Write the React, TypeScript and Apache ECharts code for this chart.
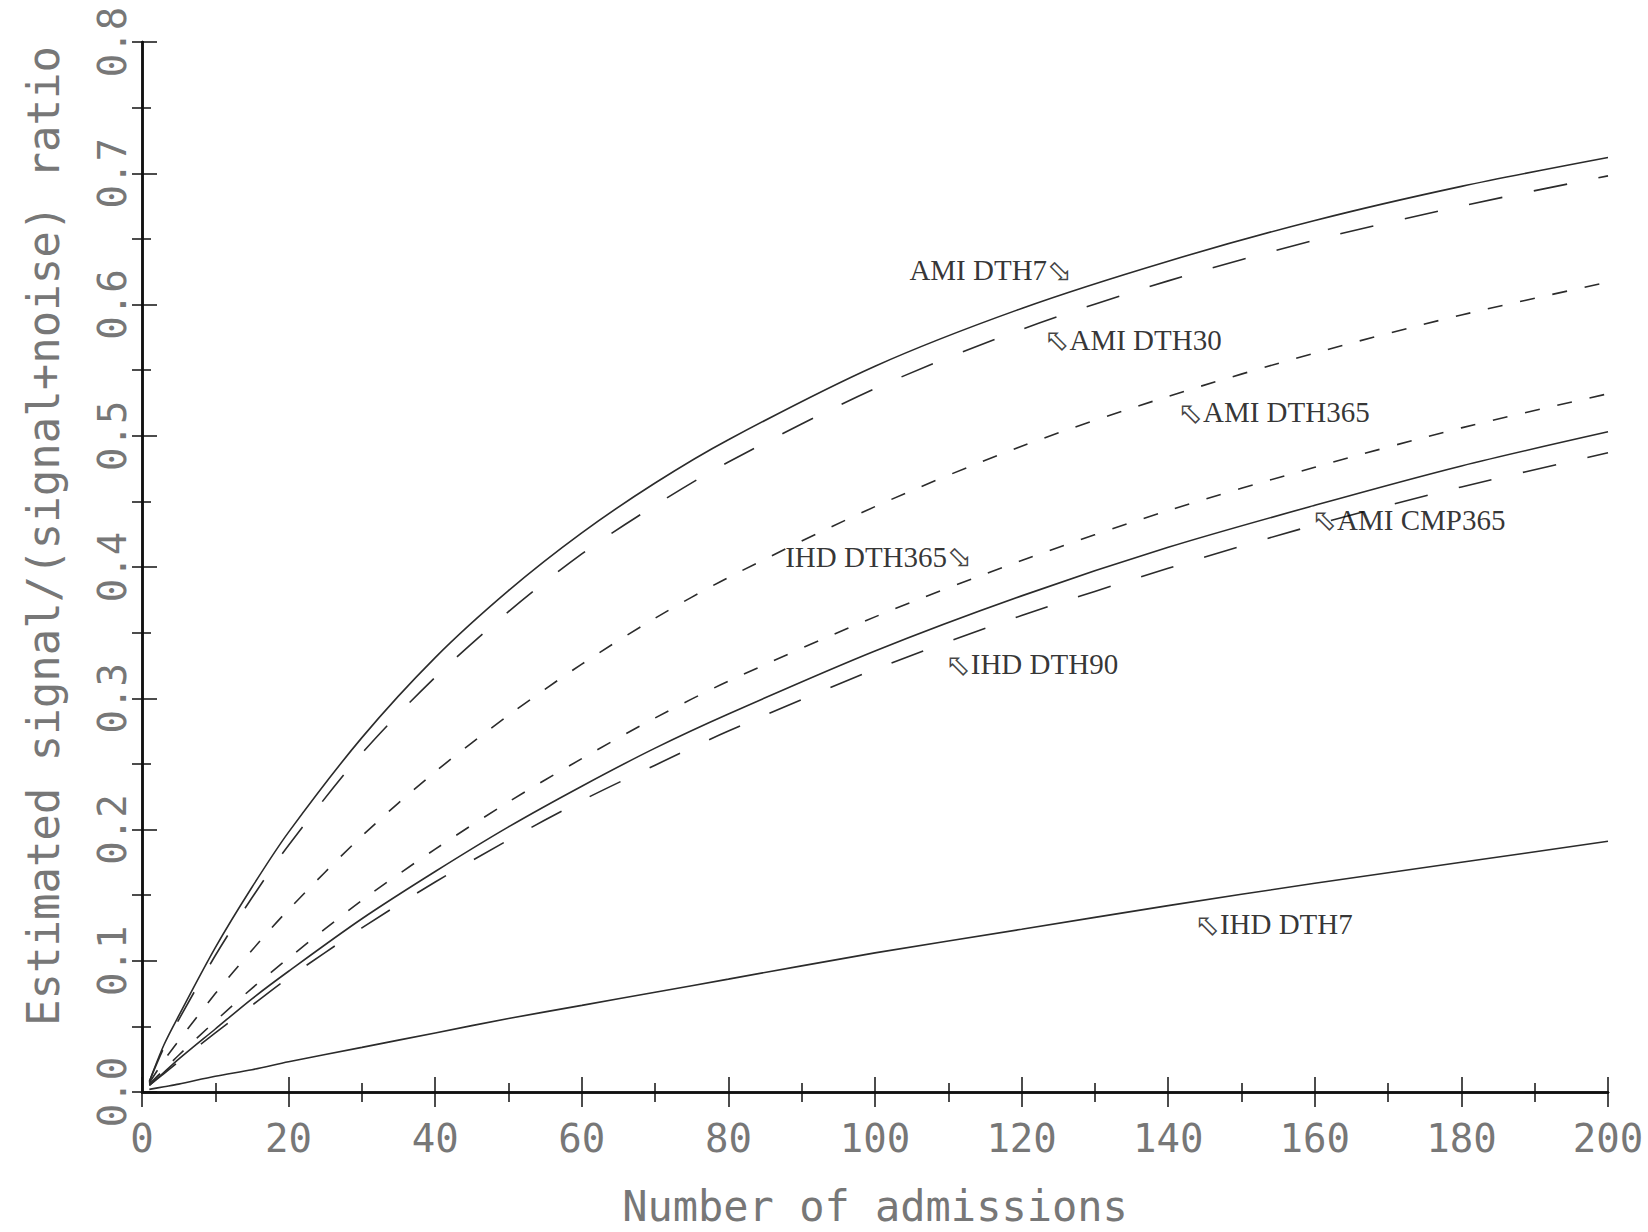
import React, { useEffect, useRef } from "react";
import * as echarts from "echarts";

// Number of admissions (x) at which the curves were read
const admissions = [1, 3, 5, 10, 15, 20, 30, 40, 50, 60, 70, 80, 100, 120, 140, 160, 180, 200];

// Estimated signal/(signal+noise) ratio
const amiDth7 = [0.008, 0.036, 0.058, 0.110, 0.156, 0.198, 0.270, 0.331, 0.382, 0.426, 0.464, 0.497, 0.553, 0.597, 0.633, 0.664, 0.690, 0.712];
const amiDth30 = [0.008, 0.034, 0.055, 0.104, 0.148, 0.188, 0.258, 0.316, 0.366, 0.410, 0.447, 0.480, 0.536, 0.581, 0.618, 0.649, 0.675, 0.698];
const amiDth365 = [0.007, 0.024, 0.039, 0.075, 0.108, 0.139, 0.195, 0.244, 0.287, 0.326, 0.361, 0.392, 0.446, 0.492, 0.530, 0.563, 0.592, 0.617];
const ihdDth365 = [0.006, 0.017, 0.028, 0.054, 0.079, 0.102, 0.146, 0.185, 0.221, 0.254, 0.285, 0.313, 0.362, 0.405, 0.443, 0.476, 0.506, 0.532];
const amiCmp365 = [0.005, 0.015, 0.025, 0.048, 0.071, 0.092, 0.132, 0.168, 0.202, 0.233, 0.262, 0.288, 0.336, 0.378, 0.415, 0.447, 0.477, 0.503];
const ihdDth90 = [0.005, 0.014, 0.023, 0.045, 0.066, 0.087, 0.125, 0.160, 0.192, 0.222, 0.249, 0.275, 0.322, 0.363, 0.399, 0.432, 0.461, 0.487];
const ihdDth7 = [0.002, 0.004, 0.006, 0.012, 0.017, 0.023, 0.034, 0.045, 0.056, 0.066, 0.076, 0.086, 0.106, 0.124, 0.142, 0.159, 0.175, 0.191];

const seriesNames = ["AMI DTH7", "AMI DTH30", "AMI DTH365", "IHD DTH365", "AMI CMP365", "IHD DTH90", "IHD DTH7"];
const seriesValues = [amiDth7, amiDth30, amiDth365, ihdDth365, amiCmp365, ihdDth90, ihdDth7];
const seriesDash = ["solid", "long", "short", "short", "solid", "long", "solid"];

// Curve annotations (data coordinates), arrow side
const noteText = ["AMI DTH7", "AMI DTH30", "AMI DTH365", "IHD DTH365", "AMI CMP365", "IHD DTH90", "IHD DTH7"];
const noteX = [115.8, 135.2, 154.4, 100.5, 172.8, 121.4, 154.4];
const noteY = [0.626, 0.573, 0.518, 0.408, 0.436, 0.326, 0.128];
const noteArrow = ["after", "before", "before", "after", "before", "before", "before"];

const xTitle = "Number of admissions";
const yTitle = "Estimated signal/(signal+noise) ratio";

const AXIS_FONT = "'DejaVu Sans Mono', 'Liberation Mono', monospace";
const LABEL_FONT = "'Liberation Serif', 'Times New Roman', serif";
const AXIS_TEXT = "#777";

export default function App() {
  const ref = useRef<HTMLDivElement>(null);

  useEffect(() => {
    if (!ref.current) return;
    const chart = echarts.init(ref.current, undefined, { renderer: "svg" });

    const dashFor = (d: string): any =>
      d === "long" ? [34, 32] : d === "short" ? [15, 18] : "solid";

    const lineSeries = seriesNames.map((name, i) => ({
      name,
      type: "line",
      xAxisIndex: 0,
      yAxisIndex: 0,
      data: admissions.map((x, j) => [x, seriesValues[i][j]]),
      showSymbol: false,
      symbol: "none",
      smooth: 0.3,
      silent: true,
      lineStyle: { color: "#2b2b2b", width: 1.6, type: dashFor(seriesDash[i]) },
    }));

    const noteSeries = {
      name: "notes",
      type: "scatter",
      xAxisIndex: 0,
      yAxisIndex: 0,
      symbolSize: 0,
      silent: true,
      z: 10,
      data: noteText.map((t, i) => ({ value: [noteX[i], noteY[i]], name: t, arrow: noteArrow[i] })),
      label: {
        show: true,
        position: "inside",
        fontFamily: LABEL_FONT,
        fontSize: 29,
        color: "#000",
        formatter: (p: any) =>
          p.data.arrow === "after" ? `${p.name}{a|\u2B02}` : `{a|\u2B01}${p.name}`,
        rich: {
          a: { fontFamily: "'DejaVu Sans', sans-serif", fontSize: 30, color: "#111" },
        },
      },
    };

    const axisLine = { show: true, lineStyle: { color: "#111", width: 2.5 } };

    chart.setOption({
      animation: false,
      backgroundColor: "#fff",
      grid: { left: 142, right: 40, top: 42, bottom: 134, containLabel: false },
      xAxis: [
        {
          type: "value",
          position: "bottom",
          min: 0,
          max: 200,
          interval: 20,
          axisLine,
          axisTick: { show: true, inside: true, length: 15, lineStyle: { color: "#111", width: 1.5 } },
          minorTick: { show: true, splitNumber: 2, length: 9, lineStyle: { color: "#111", width: 1.5 } },
          splitLine: { show: false },
          axisLabel: { margin: 27, fontFamily: AXIS_FONT, fontSize: 39, color: AXIS_TEXT },
          name: xTitle,
          nameLocation: "middle",
          nameGap: 93,
          nameTextStyle: { fontFamily: AXIS_FONT, fontSize: 42, color: AXIS_TEXT },
        },
        {
          type: "value",
          position: "top",
          min: 0,
          max: 200,
          interval: 20,
          axisLine,
          axisTick: { show: true, inside: true, length: 15, lineStyle: { color: "#111", width: 1.5 } },
          minorTick: { show: true, splitNumber: 2, length: 10, lineStyle: { color: "#111", width: 1.5 } },
          splitLine: { show: false },
          axisLabel: { show: false },
        },
      ],
      yAxis: [
        {
          type: "value",
          position: "left",
          min: 0,
          max: 0.8,
          interval: 0.1,
          axisLine,
          axisTick: { show: true, inside: true, length: 15, lineStyle: { color: "#111", width: 1.5 } },
          minorTick: { show: true, splitNumber: 2, length: 9, lineStyle: { color: "#111", width: 1.5 } },
          splitLine: { show: false },
          axisLabel: {
            rotate: 90,
            margin: 10,
            fontFamily: AXIS_FONT,
            fontSize: 39,
            color: AXIS_TEXT,
            formatter: (v: number) => v.toFixed(1),
          },
          name: yTitle,
          nameLocation: "middle",
          nameGap: 77,
          nameTextStyle: { fontFamily: AXIS_FONT, fontSize: 44, color: AXIS_TEXT, padding: [0, 0, 0, 62] },
        },
        {
          type: "value",
          position: "right",
          min: 0,
          max: 0.8,
          interval: 0.1,
          axisLine,
          axisTick: { show: true, inside: true, length: 10, lineStyle: { color: "#111", width: 1.5 } },
          minorTick: { show: true, splitNumber: 2, length: 10, lineStyle: { color: "#111", width: 1.5 } },
          splitLine: { show: false },
          axisLabel: { show: false },
        },
      ],
      series: [...lineSeries, noteSeries],
    });

    return () => chart.dispose();
  }, []);

  return (
    <div
      ref={ref}
      style={{ position: "fixed", left: 0, top: 0, width: 1648, height: 1232, background: "#fff" }}
    />
  );
}
